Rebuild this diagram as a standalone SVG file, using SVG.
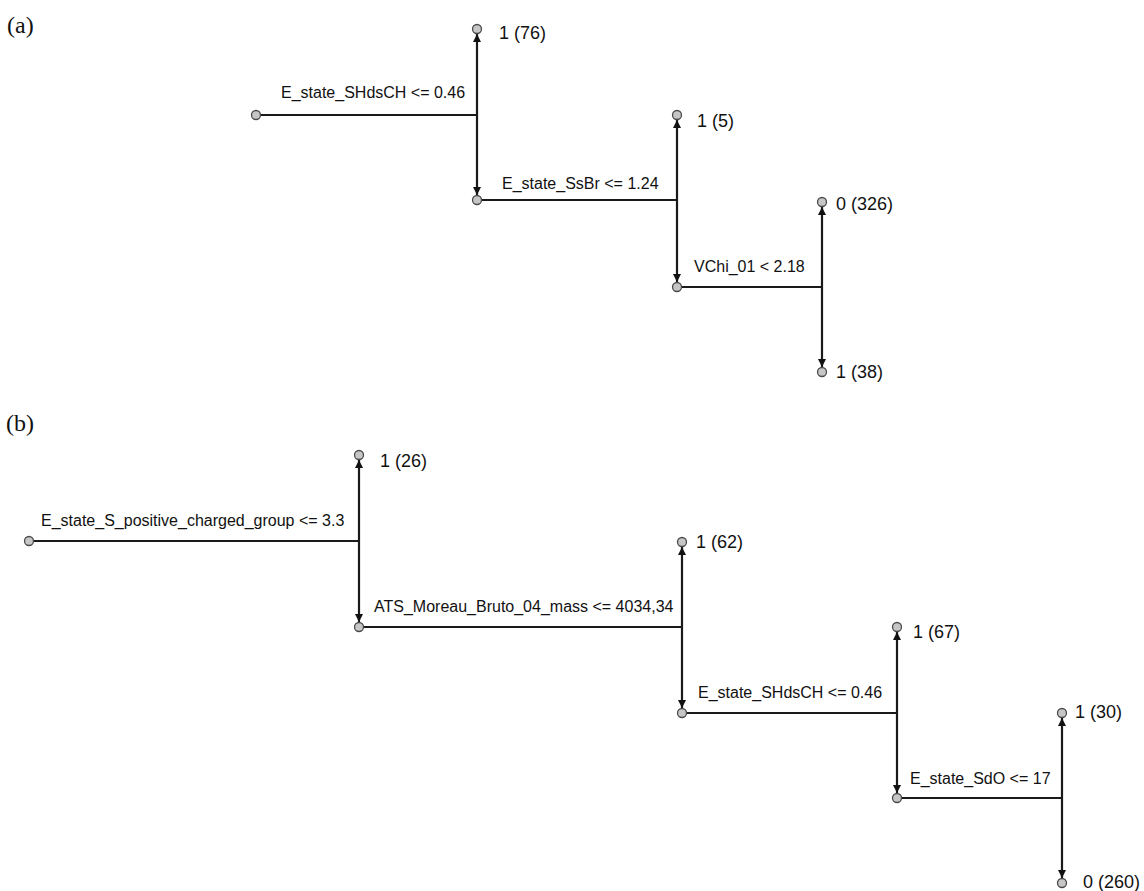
<svg xmlns="http://www.w3.org/2000/svg" width="1144" height="891" viewBox="0 0 1144 891">
<style>
.ln{fill:none;stroke:#1a1a1a;stroke-width:2.2}
.va{fill:none;stroke:#1a1a1a;stroke-width:2.2;marker-end:url(#arr)}
.nd{fill:#c6c6c6;stroke:#4a4a4a;stroke-width:1.3}
.cond{font-family:"Liberation Sans",Arial,sans-serif;font-size:16px;fill:#111}
.leaf{font-family:"Liberation Sans",Arial,sans-serif;font-size:18px;fill:#111}
.pl{font-family:"Liberation Serif","Times New Roman",serif;font-size:24px;fill:#111}
</style>
<defs>
<marker id="arr" viewBox="0 0 10 10" refX="10" refY="5" markerWidth="8" markerHeight="8" orient="auto" markerUnits="userSpaceOnUse">
<path d="M0,0 L10,5 L0,10 z" fill="#111"/>
</marker>
</defs>
<rect width="1144" height="891" fill="#fff"/>
<text class="pl" x="7" y="33">(a)</text>
<text class="pl" x="6" y="431">(b)</text>
<g id="connectors">
<path class="ln" d="M256,115 H477"/>
<path class="va" d="M477,115 V34"/>
<path class="va" d="M477,115 V195"/>
<path class="ln" d="M477,200 H677"/>
<path class="va" d="M677,200 V120"/>
<path class="va" d="M677,200 V282"/>
<path class="ln" d="M677,287 H822"/>
<path class="va" d="M822,287 V207"/>
<path class="va" d="M822,287 V367"/>
<path class="ln" d="M29,541 H359"/>
<path class="va" d="M359,541 V460"/>
<path class="va" d="M359,541 V622"/>
<path class="ln" d="M359,627 H682"/>
<path class="va" d="M682,627 V547"/>
<path class="va" d="M682,627 V708"/>
<path class="ln" d="M682,713 H897"/>
<path class="va" d="M897,713 V632"/>
<path class="va" d="M897,713 V793"/>
<path class="ln" d="M897,798 H1062"/>
<path class="va" d="M1062,798 V718"/>
<path class="va" d="M1062,798 V878"/>
<text class="cond" x="281" y="98">E_state_SHdsCH &lt;= 0.46</text>
<text class="cond" x="502" y="189">E_state_SsBr &lt;= 1.24</text>
<text class="cond" x="694" y="272">VChi_01 &lt; 2.18</text>
<text class="cond" x="41" y="526">E_state_S_positive_charged_group &lt;= 3.3</text>
<text class="cond" x="374" y="612">ATS_Moreau_Bruto_04_mass &lt;= 4034,34</text>
<text class="cond" x="698" y="698">E_state_SHdsCH &lt;= 0.46</text>
<text class="cond" x="910" y="784">E_state_SdO &lt;= 17</text>
</g>
<g id="a_root"><circle class="nd" cx="256" cy="115" r="4.5"/></g>
<g id="a_leaf76"><circle class="nd" cx="477" cy="29" r="4.5"/><text class="leaf" x="499" y="39">1 (76)</text></g>
<g id="a_split2"><circle class="nd" cx="477" cy="200" r="4.5"/></g>
<g id="a_leaf5"><circle class="nd" cx="677" cy="115" r="4.5"/><text class="leaf" x="697" y="127">1 (5)</text></g>
<g id="a_split3"><circle class="nd" cx="677" cy="287" r="4.5"/></g>
<g id="a_leaf326"><circle class="nd" cx="822" cy="202" r="4.5"/><text class="leaf" x="836" y="210">0 (326)</text></g>
<g id="a_leaf38"><circle class="nd" cx="822" cy="372" r="4.5"/><text class="leaf" x="836" y="378">1 (38)</text></g>
<g id="b_root"><circle class="nd" cx="29" cy="541" r="4.5"/></g>
<g id="b_leaf26"><circle class="nd" cx="359" cy="455" r="4.5"/><text class="leaf" x="380" y="467">1 (26)</text></g>
<g id="b_split2"><circle class="nd" cx="359" cy="627" r="4.5"/></g>
<g id="b_leaf62"><circle class="nd" cx="682" cy="542" r="4.5"/><text class="leaf" x="696" y="548">1 (62)</text></g>
<g id="b_split3"><circle class="nd" cx="682" cy="713" r="4.5"/></g>
<g id="b_leaf67"><circle class="nd" cx="897" cy="627" r="4.5"/><text class="leaf" x="913" y="638">1 (67)</text></g>
<g id="b_split4"><circle class="nd" cx="897" cy="798" r="4.5"/></g>
<g id="b_leaf30"><circle class="nd" cx="1062" cy="713" r="4.5"/><text class="leaf" x="1075" y="718">1 (30)</text></g>
<g id="b_leaf260"><circle class="nd" cx="1062" cy="883" r="4.5"/><text class="leaf" x="1083" y="888">0 (260)</text></g>
</svg>
